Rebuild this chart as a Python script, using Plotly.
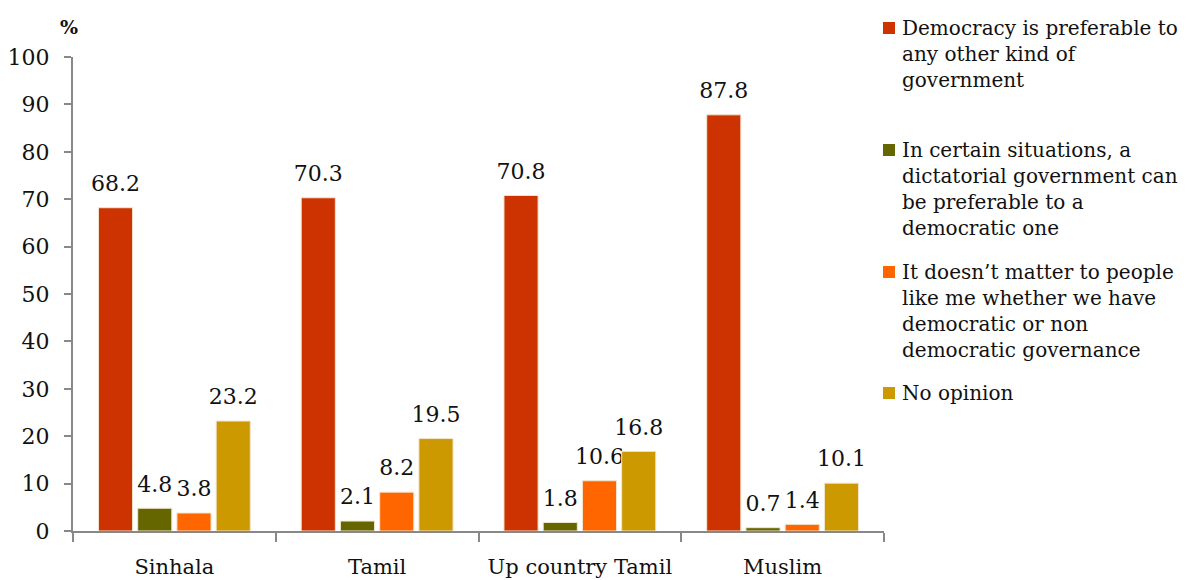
import plotly.graph_objects as go

categories = ["Sinhala", "Tamil", "Up country Tamil", "Muslim"]
series_names = [
    "Democracy is preferable to<br>any other kind of<br>government",
    "In certain situations, a<br>dictatorial government can<br>be preferable to a<br>democratic one",
    "It doesn\u2019t matter to people<br>like me whether we have<br>democratic or non<br>democratic governance",
    "No opinion",
]
democracy = [68.2, 70.3, 70.8, 87.8]
dictatorial = [4.8, 2.1, 1.8, 0.7]
doesnt_matter = [3.8, 8.2, 10.6, 1.4]
no_opinion = [23.2, 19.5, 16.8, 10.1]
colors = ["#CC3300", "#666600", "#FF6600", "#CC9900"]
y_ticks = [0, 10, 20, 30, 40, 50, 60, 70, 80, 90, 100]

FONT = "DejaVu Serif"
W, H = 1190, 580
ML, MR, MT, MB = 73, 306, 57, 49
PW, PH = W - ML - MR, H - MT - MB


def px_x(px):
    return (px - ML) / PW


def px_y(py):
    return (H - MB - py) / PH


fig = go.Figure()
for name, vals, col in zip(series_names, [democracy, dictatorial, doesnt_matter, no_opinion], colors):
    fig.add_trace(go.Bar(
        x=categories, y=vals, name=name, showlegend=False,
        marker=dict(color=col, line=dict(color="#F2E6D0", width=1)),
        text=[f"{v:.1f}" for v in vals],
        texttemplate="<span style='font-size:22px'>%{text}</span><br> ",
        textposition="outside",
        constraintext="none", cliponaxis=False,
        textfont=dict(family=FONT, size=9, color="#111111"),
    ))

# manual legend (squares + text), first-line centres in px
legend_line_centres = [28, 150, 272, 393]
shapes = []
annotations = []
for name, col, cy in zip(series_names, colors, legend_line_centres):
    shapes.append(dict(type="rect", xref="paper", yref="paper",
                       x0=px_x(883), x1=px_x(895), y0=px_y(cy + 6), y1=px_y(cy - 6),
                       fillcolor=col, line=dict(width=0)))
    annotations.append(dict(text=name, xref="paper", yref="paper", x=px_x(900), y=px_y(cy - 14),
                            xanchor="left", yanchor="top", align="left", showarrow=False,
                            font=dict(family=FONT, size=20, color="#111111")))
annotations.append(dict(text="<b>%</b>", xref="paper", yref="paper", x=px_x(69), y=px_y(27),
                        xanchor="center", yanchor="middle", showarrow=False,
                        font=dict(family=FONT, size=19, color="#111111")))

fig.update_layout(
    width=W, height=H,
    margin=dict(l=ML, r=MR, t=MT, b=MB, autoexpand=False),
    paper_bgcolor="white", plot_bgcolor="white",
    barmode="group", bargap=0.226, bargroupgap=0.13,
    font=dict(family=FONT, size=21, color="#111111"),
    showlegend=False,
    xaxis=dict(showline=True, linecolor="#888888", linewidth=2,
               ticks="outside", tickson="boundaries", ticklen=9, tickcolor="#888888", tickwidth=2,
               tickfont=dict(family=FONT, size=21), ticklabelstandoff=16, showgrid=False,
               automargin=False),
    yaxis=dict(range=[0, 100], tickvals=y_ticks, showline=True, linecolor="#888888", linewidth=2,
               ticks="outside", ticklen=7, tickcolor="#888888", tickwidth=2,
               tickfont=dict(family=FONT, size=22), ticklabelstandoff=10,
               showgrid=False, zeroline=False, automargin=False),
    shapes=shapes,
    annotations=annotations,
)
fig.write_html("out.html")
